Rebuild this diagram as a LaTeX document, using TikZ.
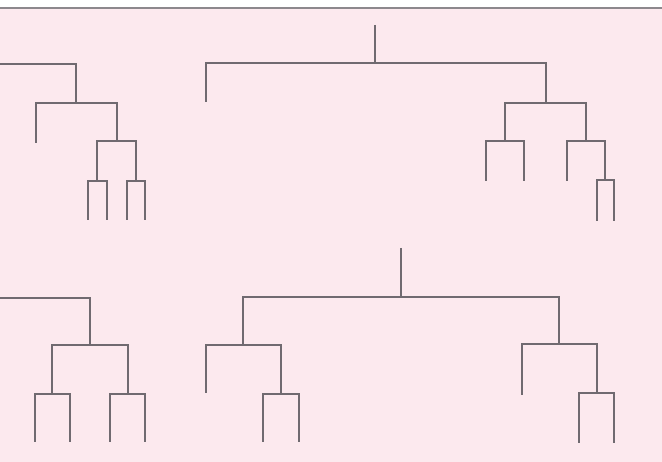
\documentclass[tikz,border=0pt]{standalone}
\usepackage{xcolor}
\usepackage{tikz}
\usetikzlibrary{positioning,calc}
\definecolor{treepink}{RGB}{252,233,238}
\definecolor{treegrey}{RGB}{112,106,112}
\tikzset{
    treebranch/.style={draw=treegrey, line width=1.3pt, line cap=butt, line join=miter},
    treeframe/.style={draw=treegrey!80, line width=1.2pt},
    treepaper/.style={fill=treepink, draw=none},
}

\begin{document}
\begin{tikzpicture}[x=1pt, y=-1pt]

    % --- Paper ---------------------------------------------------------------------
    \useasboundingbox (0,0) rectangle (662,462);
    \fill[white] (0,0) rectangle (662,9);
    \path[treepaper] (0,9) rectangle (662,462);
    \draw[treeframe] (0,8) -- (662,8);

    % --- Top left tree (cut at the edge) -------------------------------------------
    \coordinate (tlcut) at (0,64);
    \coordinate (tl1) at (76,103);
    \coordinate (tlleaf) at (36,143);
    \coordinate (tl2) at (117,141);
    \coordinate (tl3) at (97,181);
    \coordinate (tl4) at (136,181);
    \coordinate (tl3a) at (88,220);
    \coordinate (tl3b) at (107,220);
    \coordinate (tl4a) at (127,220);
    \coordinate (tl4b) at (145,220);
    \draw[treebranch] (tlcut) -| (tl1);
    \draw[treebranch] (tlleaf) |- (tl1) -| (tl2);
    \draw[treebranch] (tl3) |- (tl2) -| (tl4);
    \draw[treebranch] (tl3a) |- (tl3) -| (tl3b);
    \draw[treebranch] (tl4a) |- (tl4) -| (tl4b);

    % --- Top middle tree -----------------------------------------------------------
    \coordinate (tmstem) at (375,25);
    \coordinate (tm) at (375,63);
    \coordinate (tmleaf) at (206,102);
    \coordinate (tr1) at (546,103);
    \coordinate (tr2) at (505,141);
    \coordinate (tr3) at (586,141);
    \coordinate (tr2a) at (486,181);
    \coordinate (tr2b) at (524,181);
    \coordinate (tr3a) at (567,181);
    \coordinate (tr4) at (605,180);
    \coordinate (tr4a) at (597,221);
    \coordinate (tr4b) at (614,221);
    \draw[treebranch] (tmstem) -- (tm);
    \draw[treebranch] (tmleaf) |- (tm) -| (tr1);
    \draw[treebranch] (tr2) |- (tr1) -| (tr3);
    \draw[treebranch] (tr2a) |- (tr2) -| (tr2b);
    \draw[treebranch] (tr3a) |- (tr3) -| (tr4);
    \draw[treebranch] (tr4a) |- (tr4) -| (tr4b);

    % --- Bottom left tree (cut at the edge) ----------------------------------------
    \coordinate (blcut) at (0,298);
    \coordinate (bl1) at (90,345);
    \coordinate (bl2) at (52,394);
    \coordinate (bl3) at (128,394);
    \coordinate (bl2a) at (35,442);
    \coordinate (bl2b) at (70,442);
    \coordinate (bl3a) at (110,442);
    \coordinate (bl3b) at (145,442);
    \draw[treebranch] (blcut) -| (bl1);
    \draw[treebranch] (bl2) |- (bl1) -| (bl3);
    \draw[treebranch] (bl2a) |- (bl2) -| (bl2b);
    \draw[treebranch] (bl3a) |- (bl3) -| (bl3b);

    % --- Bottom middle tree --------------------------------------------------------
    \coordinate (bmstem) at (401,248);
    \coordinate (bm) at (401,297);
    \coordinate (bm1) at (243,345);
    \coordinate (bm2) at (559,344);
    \coordinate (bm1leaf) at (206,393);
    \coordinate (bm3) at (281,394);
    \coordinate (bm3a) at (263,442);
    \coordinate (bm3b) at (299,442);
    \coordinate (bm2leaf) at (522,395);
    \coordinate (bm4) at (597,393);
    \coordinate (bm4a) at (579,443);
    \coordinate (bm4b) at (614,443);
    \draw[treebranch] (bmstem) -- (bm);
    \draw[treebranch] (bm1) |- (bm) -| (bm2);
    \draw[treebranch] (bm1leaf) |- (bm1) -| (bm3);
    \draw[treebranch] (bm3a) |- (bm3) -| (bm3b);
    \draw[treebranch] (bm2leaf) |- (bm2) -| (bm4);
    \draw[treebranch] (bm4a) |- (bm4) -| (bm4b);

\end{tikzpicture}
\end{document}
